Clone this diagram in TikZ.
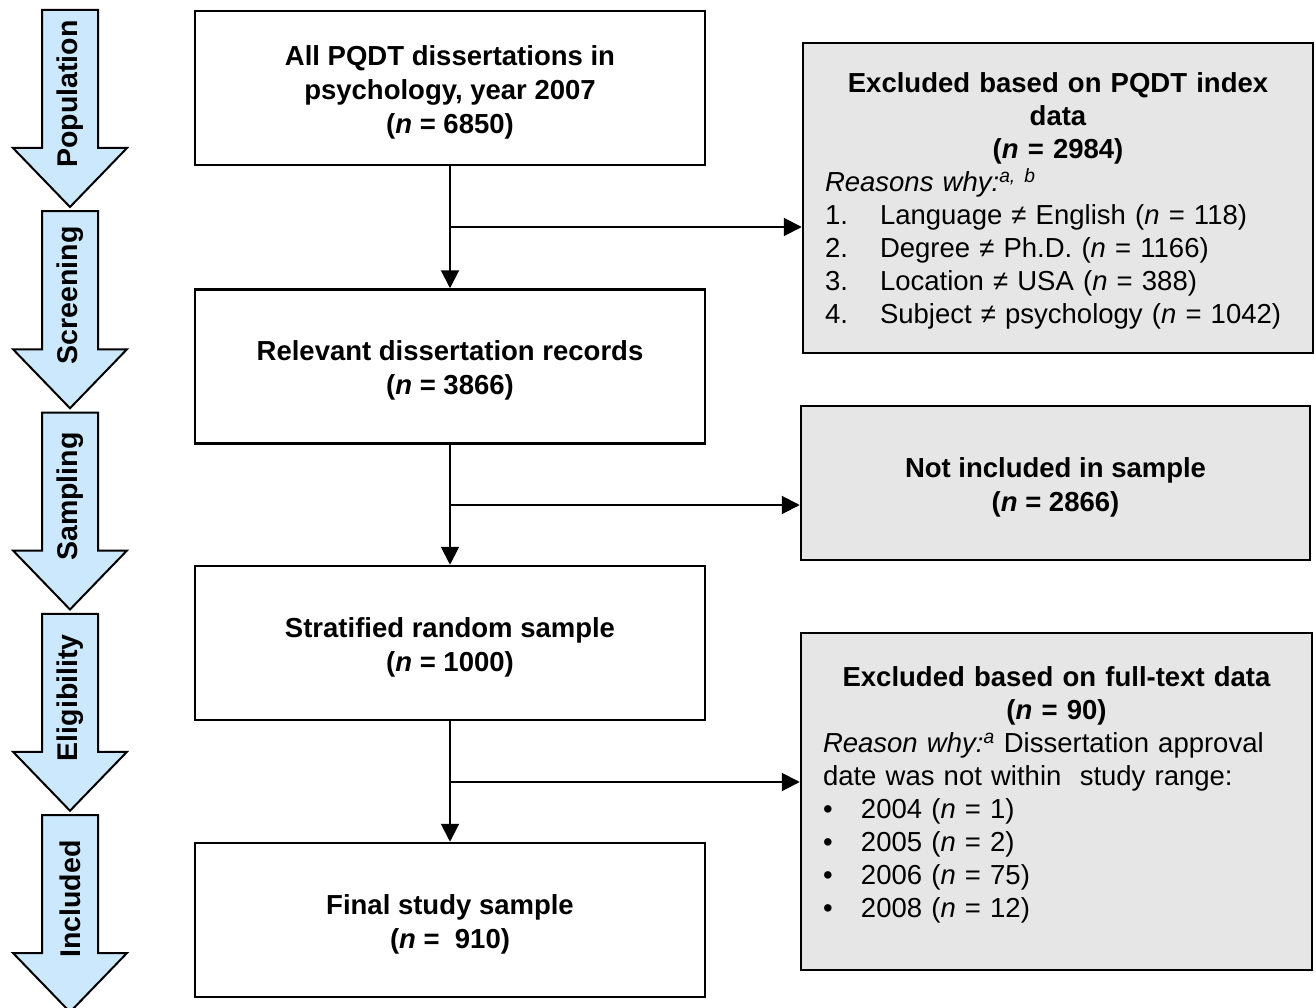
\documentclass[tikz,border=0pt]{standalone}
\usepackage{fontspec}
\setmainfont{Liberation Sans}
\usetikzlibrary{arrows.meta}
\definecolor{arrblue}{RGB}{204,232,252}
\definecolor{boxgray}{RGB}{230,230,230}
\tikzset{
  mainbox/.style={draw, line width=2.5pt, minimum width=510pt, minimum height=154pt, inner sep=0pt},
  boxtext/.style={align=center, inner sep=0pt, yshift=-4pt, font=\fontsize{27.5}{34}\selectfont\bfseries},
  sidebox/.style={draw, line width=2.5pt, fill=boxgray, inner sep=0pt},
  sidetext/.style={inner sep=0pt, font=\fontsize{27.5}{33}\selectfont},
  stagearrow/.style={draw, line width=2pt, fill=arrblue, line join=miter},
  stagelabel/.style={rotate=90, font=\fontsize{28.5}{30}\selectfont\bfseries, inner sep=0pt},
  conn/.style={line width=2pt, -{Triangle[length=18pt,width=18pt]}}
}
\newcommand{\numitem}[1]{\makebox[55pt][l]{#1}}
\newcommand{\bulitem}{\makebox[38pt][l]{\textbullet}}
\begin{document}
\begin{tikzpicture}[x=1pt,y=-1pt]
\useasboundingbox (0,0) rectangle (1316,1008);
% stage arrows
\foreach \t/\lab/\nm in {10/Population/s1, 211.25/Screening/s2, 412.5/Sampling/s3, 613.75/Eligibility/s4, 815/Included/s5}{
  \draw[stagearrow] (42,\t) -- (98,\t) -- (98,\t+138) -- (127,\t+138) -- (70,\t+197)
     -- (13,\t+138) -- (42,\t+138) -- cycle;
  \node[stagelabel] (\nm) at (70,\t+84) {\lab};
}
% main boxes
\node[mainbox] (m1) at (450,88) {};
\node[boxtext] (t1) at (m1.center) {All PQDT dissertations in\\ psychology, year 2007\\ (\textit{n} = 6850)};
\node[mainbox] (m2) at (450,366.5) {};
\node[boxtext] (t2) at (m2.center) {Relevant dissertation records\\ (\textit{n} = 3866)};
\node[mainbox] (m3) at (450,643) {};
\node[boxtext] (t3) at (m3.center) {Stratified random sample\\ (\textit{n} = 1000)};
\node[mainbox] (m4) at (450,920) {};
\node[boxtext] (t4) at (m4.center) {Final study sample\\ (\textit{n} =\ \ 910)};
% side boxes
\node[sidebox, minimum width=510pt, minimum height=310pt] (exA) at (1058,198) {};
\node[sidetext, text width=466pt, yshift=-3pt] (tA) at (exA.center) {%
  {\centering\bfseries Excluded based on PQDT index\\ data\\ (\textit{n} = 2984)\par}%
  \raggedright\textit{Reasons why:}\textsuperscript{\itshape a, b}\\
  \numitem{1.}Language ≠ English (\textit{n} = 118)\\
  \numitem{2.}Degree ≠ Ph.D. (\textit{n} = 1166)\\
  \numitem{3.}Location ≠ USA (\textit{n} = 388)\\
  \numitem{4.}Subject ≠ psychology (\textit{n} = 1042)};
\node[sidebox, minimum width=509pt, minimum height=154pt] (exB) at (1055.5,483) {};
\node[boxtext] (tB) at (exB.center) {Not included in sample\\ (\textit{n} = 2866)};
\node[sidebox, minimum width=511pt, minimum height=337pt] (exC) at (1056.5,801.5) {};
\node[sidetext, text width=467pt, yshift=7pt] (tC) at (exC.center) {%
  {\centering\bfseries Excluded based on full-text data\\ (\textit{n} = 90)\par}%
  \raggedright\textit{Reason why:}\textsuperscript{\itshape a} Dissertation approval\\
  date was not within\ \ study range:\\
  \bulitem 2004 (\textit{n} = 1)\\
  \bulitem 2005 (\textit{n} = 2)\\
  \bulitem 2006 (\textit{n} = 75)\\
  \bulitem 2008 (\textit{n} = 12)};
% connectors
\coordinate (j1) at (450,227);
\coordinate (j2) at (450,505);
\coordinate (j3) at (450,782);
\draw[conn] (m1.south) -- (m2.north);
\draw[conn] (m2.south) -- (m3.north);
\draw[conn] (m3.south) -- (m4.north);
\draw[conn] (j1) -- (j1 -| exA.west);
\draw[conn] (j2) -- (j2 -| exB.west);
\draw[conn] (j3) -- (j3 -| exC.west);
\end{tikzpicture}
\end{document}
